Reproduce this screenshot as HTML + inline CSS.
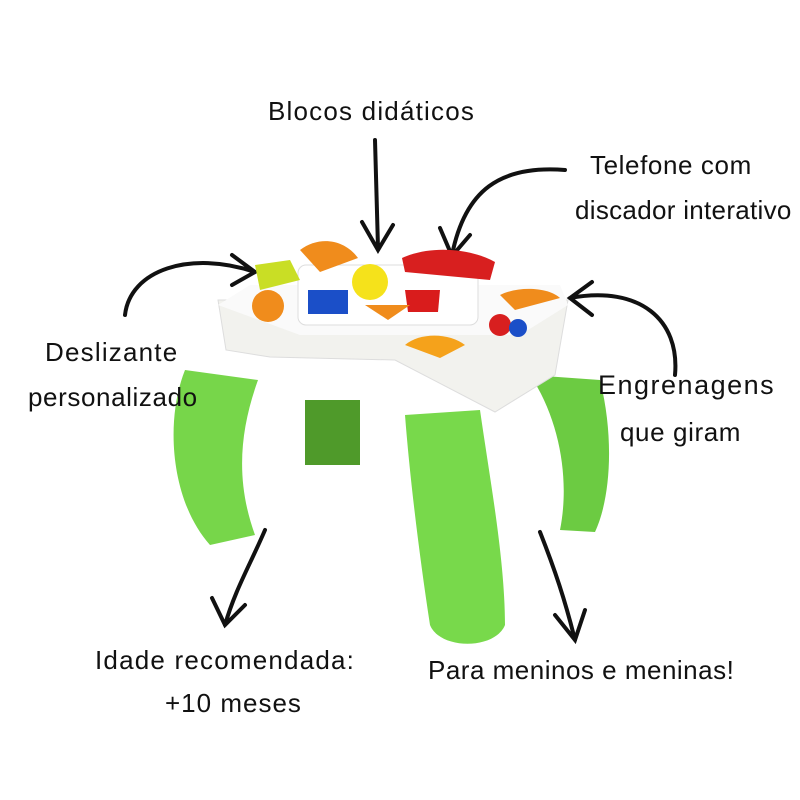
<!DOCTYPE html>
<html><head><style>
body{margin:0;background:#fff;}
.t{position:absolute;font-family:"Liberation Sans",sans-serif;font-size:26px;color:#111;white-space:nowrap;letter-spacing:0.6px}
</style></head><body>
<div style="position:relative;width:800px;height:800px;overflow:hidden">
<svg width="800" height="800" style="position:absolute;left:0;top:0">
<g fill="none" stroke="#111" stroke-width="4" stroke-linecap="round">
<path d="M375 140 L378 248 M362 222 L378 250 L393 225"/>
<path d="M565 170 C500 165 465 190 452 255 M440 228 L452 256 L470 235"/>
<path d="M125 315 C130 270 190 250 255 272 M232 255 L255 272 L232 285"/>
<path d="M675 375 C680 320 640 285 570 298 M592 282 L570 298 L592 315"/>
<path d="M265 530 C250 565 235 590 225 625 M212 598 L225 625 L245 605"/>
<path d="M540 532 C555 570 565 600 575 640 M555 615 L575 640 L585 610"/>
</g>
<path d="M305 400 L360 400 L360 465 L305 465 Z" fill="#4f9a2a"/>
<path d="M185 370 L258 380 C240 430 235 480 255 535 L210 545 C170 500 165 420 185 370Z" fill="#77d64a"/>
<path d="M530 375 L600 380 C615 440 610 500 595 532 L560 530 C570 480 560 420 530 375Z" fill="#6ccb42"/>
<path d="M405 415 L480 410 C490 480 505 560 505 625 C495 650 440 650 430 625 C420 560 410 480 405 415Z" fill="#78d94b"/>
<path d="M218 300 L568 300 L555 375 L495 412 L395 360 L270 357 L226 350 Z" fill="#f2f2ee" stroke="#ddd"/>
<path d="M250 285 L560 285 L568 305 L520 335 L300 335 L218 305 Z" fill="#fafafa"/>
<rect x="298" y="265" width="180" height="60" rx="8" fill="#fff" stroke="#ddd"/>
<circle cx="370" cy="282" r="18" fill="#f5e21b"/>
<rect x="308" y="290" width="40" height="24" fill="#1b4fc8"/>
<path d="M405 290 L440 290 L438 312 L408 312Z" fill="#d91c1c"/>
<path d="M365 305 L410 305 L388 320Z" fill="#f08c1c"/>
<path d="M402 258 C430 245 470 248 495 262 L490 280 L405 272Z" fill="#d81f1f"/>
<path d="M255 265 L290 260 L300 280 L260 290Z" fill="#c9de25"/>
<path d="M300 250 C320 235 345 240 358 258 L320 272Z" fill="#f08c1c"/>
<circle cx="268" cy="306" r="16" fill="#f08c1c"/>
<path d="M500 295 C520 285 550 288 560 298 L515 310Z" fill="#f08c1c"/>
<circle cx="500" cy="325" r="11" fill="#d81f1f"/>
<circle cx="518" cy="328" r="9" fill="#1b4fc8"/>
<path d="M405 345 C420 332 450 333 465 345 L440 358Z" fill="#f5a21b"/>
</svg>
<div class="t" style="left:268px;top:96px;letter-spacing:1.2px">Blocos didáticos</div>
<div class="t" style="left:590px;top:150px">Telefone com</div>
<div class="t" style="left:575px;top:195px;letter-spacing:0.3px">discador interativo</div>
<div class="t" style="left:45px;top:337px;letter-spacing:1.2px">Deslizante</div>
<div class="t" style="left:28px;top:382px">personalizado</div>
<div class="t" style="left:598px;top:370px;letter-spacing:1.5px;font-size:27px">Engrenagens</div>
<div class="t" style="left:620px;top:417px">que giram</div>
<div class="t" style="left:95px;top:645px;letter-spacing:1.2px">Idade recomendada:</div>
<div class="t" style="left:165px;top:688px;letter-spacing:1px">+10 meses</div>
<div class="t" style="left:428px;top:655px;letter-spacing:0.5px">Para meninos e meninas!</div>
</div>
</body></html>
